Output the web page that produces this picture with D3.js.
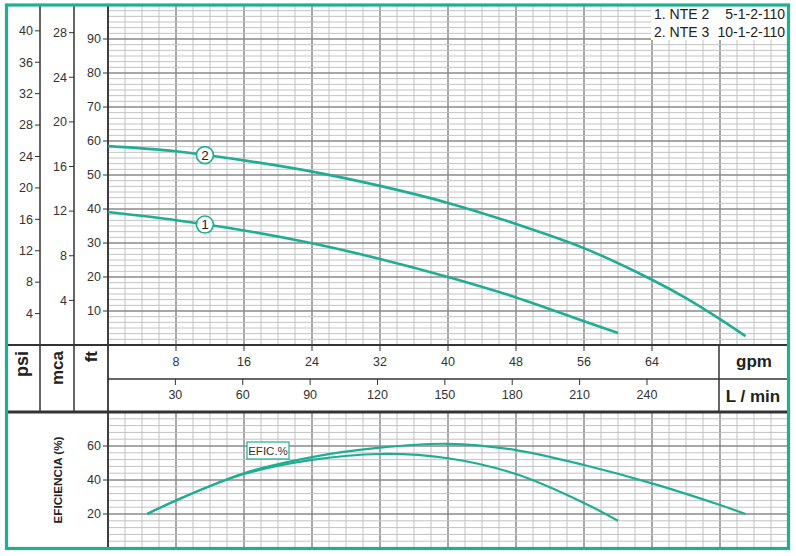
<!DOCTYPE html>
<html><head><meta charset="utf-8">
<script src="https://cdn.jsdelivr.net/npm/d3@7"></script>
<style>body{margin:0;background:#fff}svg{display:block}</style>
</head><body><svg id="c" width="796" height="556"></svg>
<script>
// ---------- data ----------
const gpmTicks = [8,16,24,32,40,48,56,64];
const lminTicks = [30,60,90,120,150,180,210,240];
const psiTicks = [4,8,12,16,20,24,28,32,36,40];
const mcaTicks = [4,8,12,16,20,24,28];
const ftTicks = [10,20,30,40,50,60,70,80,90];
const effTicks = [20,40,60];

const head1Flow = [0,8,16,24,32,40,48,56,60];
const head1 = [39.1,36.7,33.7,29.9,25.3,20,14,7,3.5];
const head2Flow = [0,8,16,24,32,40,48,56,64,68,72,75];
const head2 = [58.5,57,54.3,51,46.8,41.8,35.6,28.5,19.2,13.8,7.6,2.6];
const eff1Flow = [4.6,8,16,24,32,40,48,56,60];
const eff1 = [20,28,43.5,51.8,55.3,52.8,43.5,26.5,16];
const eff2Flow = [4.6,8,16,24,32,40,48,56,64,72,75];
const eff2 = [20,28,44,53.5,59,61.3,57.6,48.8,38,25.3,20];
const curveLabels = ["1","2"];
const labelFlow = 11.4;
const legendNames = ["1. NTE 2","2. NTE 3"];
const legendCodes = ["5-1-2-110","10-1-2-110"];

// ---------- layout ----------
const svg = d3.select("#c");
const teal = "#1fae93";
const dark = "#333";
const X0 = 108, X1 = 788, YT = 5, YH0 = 345, YR = 379, YB = 412, YE0 = 548;
const x = d3.scaleLinear().domain([0,80]).range([X0,X1]);
const xL = d3.scaleLinear().domain([0,80*3.785]).range([X0,X1]);
const yFt = d3.scaleLinear().domain([0,100]).range([YH0,YT]);
const yPsi = d3.scaleLinear().domain([0,100/2.31]).range([YH0,YT]);
const yMca = d3.scaleLinear().domain([0,100/3.281]).range([YH0,YT]);
const yEff = d3.scaleLinear().domain([0,80]).range([YE0,YB]);

const font = "'Liberation Sans', Arial, sans-serif";

// grid
function grid(g, y0, y1, ys, hMajor) {
  d3.range(0,81,2).forEach(v => {
    const maj = v % 8 === 0;
    g.append("line").attr("x1",x(v)).attr("x2",x(v)).attr("y1",y0).attr("y2",y1)
      .attr("stroke", maj ? "#8a8a8a" : "#c2c2c2").attr("stroke-width", maj ? 1.5 : 1);
  });
  ys.forEach((v,i) => {
    const maj = i % hMajor === 0;
    g.append("line").attr("x1",X0).attr("x2",X1).attr("y1",v).attr("y2",v)
      .attr("stroke", maj ? "#8a8a8a" : "#c2c2c2").attr("stroke-width", maj ? 1.5 : 1);
  });
}
const gGrid = svg.append("g");
grid(gGrid, YT, YH0, d3.range(0,61).map(i => yFt(i*10/6)), 6);
grid(gGrid, YB, YE0, d3.range(0,21).map(i => yEff(i*4)), 5);

// legend box
svg.append("rect").attr("x",651).attr("y",6).attr("width",136).attr("height",34).attr("fill","#fff");
legendNames.forEach((n,i) => {
  svg.append("text").attr("x",654).attr("y",19+i*18).text(n)
    .attr("font-family",font).attr("font-size",14).attr("fill","#222");
  svg.append("text").attr("x",785).attr("y",19+i*18).text(legendCodes[i]).attr("text-anchor","end")
    .attr("font-family",font).attr("font-size",14).attr("fill","#222");
});

// structure lines
function ln(x1,y1,x2,y2,w){svg.append("line").attr("x1",x1).attr("y1",y1).attr("x2",x2).attr("y2",y2).attr("stroke",dark).attr("stroke-width",w);}
ln(40,YT,40,YB,1.5); ln(74,YT,74,YB,1.5); ln(X0,YT,X0,YE0,1.8);
ln(6,YH0,X1,YH0,2); ln(X0,YR,X1,YR,1.5); ln(6,YB,X1,YB,3); ln(719,YH0,719,YB,1.5);

// left axes
function leftAxis(scale, ticks, xr) {
  const g = svg.append("g");
  ticks.forEach(t => {
    const yy = scale(t);
    g.append("line").attr("x1",xr-5).attr("x2",xr).attr("y1",yy).attr("y2",yy).attr("stroke",dark).attr("stroke-width",1);
    g.append("text").attr("x",xr-7).attr("y",yy+4.3).attr("text-anchor","end").text(t)
      .attr("font-family",font).attr("font-size",12.5).attr("fill","#333");
  });
}
leftAxis(yPsi, psiTicks, 40);
leftAxis(yMca, mcaTicks, 74);
leftAxis(yFt, ftTicks, X0);
leftAxis(yEff, effTicks, X0);

// bottom axes
gpmTicks.forEach(t => {
  svg.append("line").attr("x1",x(t)).attr("x2",x(t)).attr("y1",YH0).attr("y2",YH0+6).attr("stroke",dark);
  svg.append("text").attr("x",x(t)).attr("y",366).attr("text-anchor","middle").text(t)
    .attr("font-family",font).attr("font-size",12.5).attr("fill","#333");
});
lminTicks.forEach(t => {
  svg.append("line").attr("x1",xL(t)).attr("x2",xL(t)).attr("y1",YR).attr("y2",YR+6).attr("stroke",dark);
  svg.append("text").attr("x",xL(t)).attr("y",399).attr("text-anchor","middle").text(t)
    .attr("font-family",font).attr("font-size",12.5).attr("fill","#333");
});
svg.append("text").attr("x",754).attr("y",367).attr("text-anchor","middle").text("gpm")
  .attr("font-family",font).attr("font-size",17).attr("font-weight","bold").attr("fill","#222");
svg.append("text").attr("x",753).attr("y",402).attr("text-anchor","middle").text("L / min")
  .attr("font-family",font).attr("font-size",17).attr("font-weight","bold").attr("fill","#222");

// rotated unit labels
[["psi",28,18],["mca",63,17],["ft",97,17]].forEach(([t,bx,fs]) => {
  svg.append("text").attr("transform",`translate(${bx},351) rotate(-90)`).attr("text-anchor","end").text(t)
    .attr("font-family",font).attr("font-size",fs).attr("font-weight","bold").attr("fill","#222");
});
svg.append("text").attr("transform","translate(62,480) rotate(-90)").attr("text-anchor","middle")
  .text("EFICIENCIA (%)").attr("font-family",font).attr("font-size",11.5).attr("font-weight","bold")
  .attr("fill","#222").attr("textLength",87).attr("lengthAdjust","spacingAndGlyphs");

// curves
const smooth = d3.curveCatmullRom.alpha(0.5);
const lineH = d3.line().x(d => x(d[0])).y(d => yFt(d[1])).curve(smooth);
const lineE = d3.line().x(d => x(d[0])).y(d => yEff(d[1])).curve(smooth);
const heads = [d3.zip(head1Flow, head1), d3.zip(head2Flow, head2)];
const effs = [d3.zip(eff1Flow, eff1), d3.zip(eff2Flow, eff2)];
heads.forEach(d => svg.append("path").attr("d",lineH(d)).attr("fill","none").attr("stroke",teal).attr("stroke-width",2.6));
effs.forEach(d => svg.append("path").attr("d",lineE(d)).attr("fill","none").attr("stroke",teal).attr("stroke-width",2.2));

// curve labels
heads.forEach((d,i) => {
  const fl = d.map(p=>p[0]), hv = d.map(p=>p[1]);
  const yv = d3.scaleLinear().domain(fl).range(hv)(labelFlow);
  svg.append("circle").attr("cx",x(labelFlow)).attr("cy",yFt(yv)).attr("r",8.5)
    .attr("fill","#fff").attr("stroke",teal).attr("stroke-width",1.6);
  svg.append("text").attr("x",x(labelFlow)).attr("y",yFt(yv)+4.8).attr("text-anchor","middle").text(curveLabels[i])
    .attr("font-family",font).attr("font-size",13.5).attr("fill","#222");
});

// EFIC.% box
svg.append("rect").attr("x",247).attr("y",442).attr("width",42).attr("height",17)
  .attr("fill","#fff").attr("stroke",teal).attr("stroke-width",1.2);
svg.append("text").attr("x",268).attr("y",455).attr("text-anchor","middle").text("EFIC.%")
  .attr("font-family",font).attr("font-size",11.5).attr("fill","#333");

// outer border
svg.append("rect").attr("x",6.5).attr("y",5).attr("width",782).attr("height",543.5)
  .attr("fill","none").attr("stroke","#1fb08f").attr("stroke-width",3.2);
</script></body></html>
